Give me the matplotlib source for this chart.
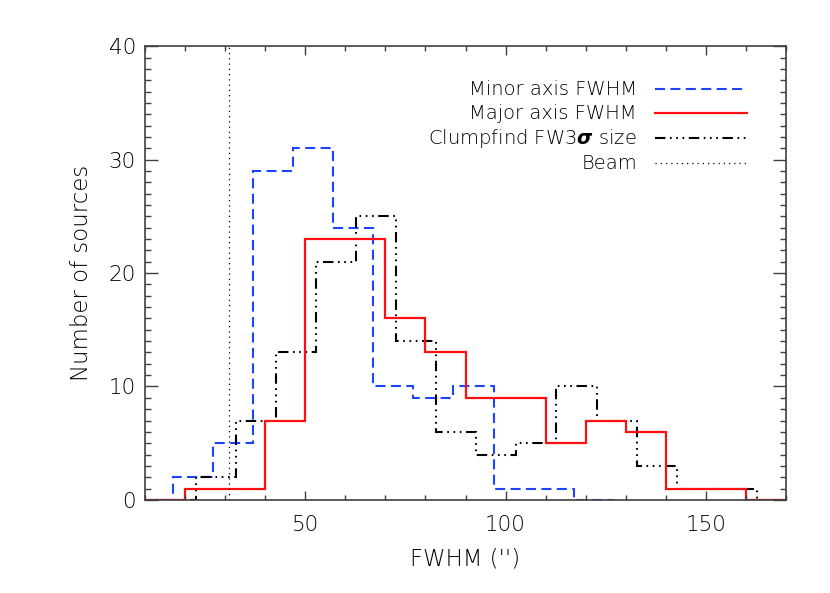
import numpy as np
import matplotlib
matplotlib.use('Agg')
import matplotlib.pyplot as plt
from matplotlib.ticker import MultipleLocator

# bin edges and counts (bin width 10)
minor_edges = np.arange(7, 128, 10)
minor_counts = [0, 2, 5, 29, 31, 24, 10, 9, 10, 1, 1, 0]

major_edges = np.arange(10, 171, 10)
major_counts = [0, 1, 1, 7, 23, 23, 16, 13, 9, 9, 5, 7, 6, 1, 1, 0]

clump_edges = np.arange(12.7, 173, 10)
clump_counts = [0, 2, 7, 13, 21, 25, 14, 6, 4, 5, 10, 7, 3, 1, 1, 0]

beam = 31

labels = ['Minor axis FWHM', 'Major axis FWHM',
          r'Clumpfind FW3$\boldsymbol{\sigma}$ size', 'Beam']

AXCOL = '#404040'
TXT = 'black'
BLUE = '#1a44ff'
RED = '#ff1010'

plt.rcParams['font.family'] = 'DejaVu Sans'
plt.rcParams['font.size'] = 14

fig = plt.figure(figsize=(8.3, 5.93), dpi=100)
ax = fig.add_axes([0.1747, 0.157, 0.7723, 0.765])

blue_ls = (0, (4.8, 2.6))
clump_ls = (0, (5.0, 2.2, 0.8, 2.2, 0.8, 2.2, 0.8, 2.2))
beam_ls = (0, (1, 3.2))

ax.stairs(minor_counts, minor_edges, color=BLUE, lw=1.5, linestyle=blue_ls, baseline=None)
ax.stairs(clump_counts, clump_edges, color='black', lw=1.5, linestyle=clump_ls, baseline=None)
ax.stairs(major_counts, major_edges, color=RED, lw=1.6, linestyle='-', baseline=None)
ax.axvline(beam, color='black', lw=0.9, linestyle=beam_ls)

ax.set_xlim(10, 170)
ax.set_ylim(0, 40)
ax.xaxis.set_major_locator(MultipleLocator(50))
ax.xaxis.set_minor_locator(MultipleLocator(10))
ax.yaxis.set_major_locator(MultipleLocator(10))
ax.yaxis.set_minor_locator(MultipleLocator(1))

for s in ax.spines.values():
    s.set_color(AXCOL)
    s.set_linewidth(1.2)
ax.tick_params(which='both', direction='in', top=True, right=True, color=AXCOL, width=1.0)
ax.tick_params(axis='x', which='major', length=6.5, pad=11)
ax.tick_params(axis='x', which='minor', length=3.4)
ax.tick_params(axis='y', which='major', length=9.4, pad=6.5)
ax.tick_params(axis='y', which='minor', length=4.6)
ax.tick_params(labelsize=15.5, labelcolor=TXT)
for t in ax.get_xticklabels() + ax.get_yticklabels():
    t.set_fontweight('light')

ax.set_xlabel("FWHM ('')", fontsize=16.5, color=TXT, labelpad=9, fontweight='light')
ax.set_ylabel('Number of sources', fontsize=16.5, color=TXT, labelpad=11, fontweight='light')

# legend drawn by hand: text right aligned, line sample on the right
styles = [(BLUE, blue_ls, 1.5), (RED, '-', 1.6), ('black', clump_ls, 1.5), ('black', beam_ls, 0.9)]
rows = [0.905, 0.852, 0.797, 0.742]
for lab, (c, ls, lw), yy in zip(labels, styles, rows):
    ax.text(0.7675, yy, lab, transform=ax.transAxes, ha='right', va='center',
            fontsize=14, color=TXT, fontweight='light')
    ax.plot([0.796, 0.939], [yy, yy], transform=ax.transAxes, color=c, lw=lw, linestyle=ls)

fig.savefig('out.png', dpi=100)
